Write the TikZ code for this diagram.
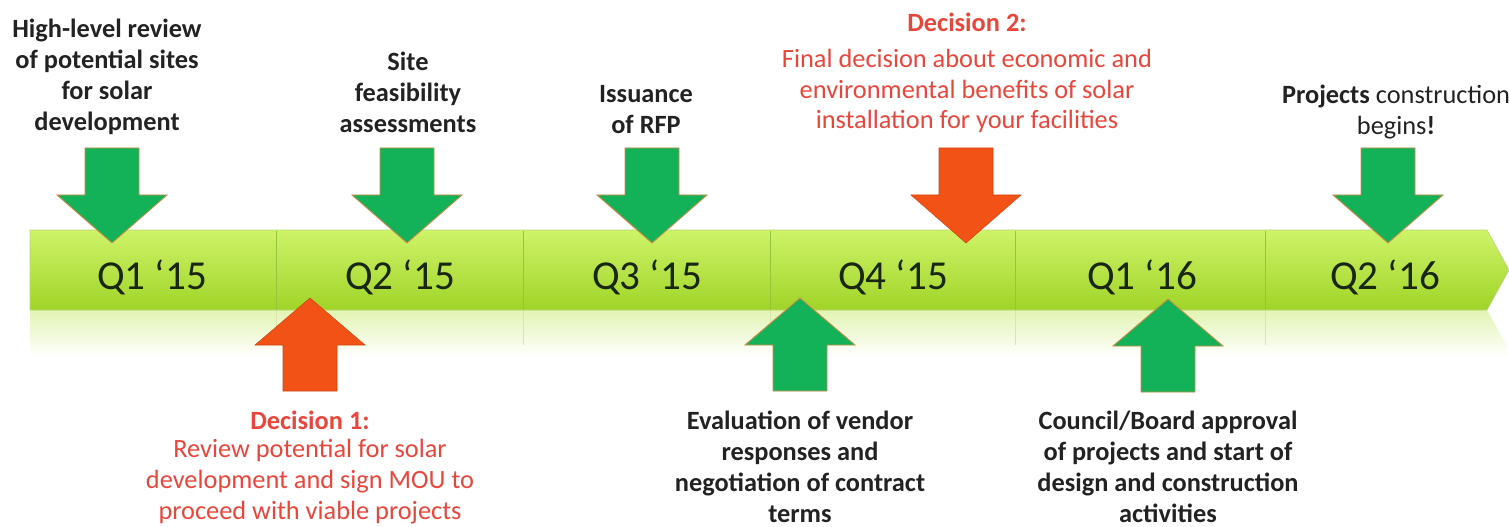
\documentclass[tikz,border=0pt]{standalone}
\usepackage{fontspec}
\setmainfont{Carlito}
\usetikzlibrary{shadows}

\definecolor{arrgreen}{RGB}{20,178,88}
\definecolor{arrorange}{RGB}{242,82,22}
\definecolor{arredge}{RGB}{205,140,70}
\definecolor{decred}{RGB}{232,70,58}
\definecolor{inkblack}{RGB}{34,34,34}
\definecolor{qdark}{RGB}{24,38,18}
\definecolor{bartop}{RGB}{206,243,104}
\definecolor{barmid}{RGB}{190,234,76}
\definecolor{barbot}{RGB}{160,212,40}
\definecolor{barline}{RGB}{150,196,60}
\definecolor{mirror}{RGB}{226,244,178}

\tikzset{
  pics/downarr/.style={code={
    \draw[pic actions] (0,0) -- (-55,-48) -- (-27,-48) -- (-27,-95) -- (27,-95) -- (27,-48) -- (55,-48) -- cycle;}},
  pics/uparr/.style={code={
    \draw[pic actions] (0,0) -- (-55,47) -- (-27,47) -- (-27,93) -- (27,93) -- (27,47) -- (55,47) -- cycle;}}
}

\begin{document}
\begin{tikzpicture}[x=0.02cm, y=-0.02cm,
    task/.style={font=\fontsize{15}{17.6}\selectfont\bfseries, text=inkblack, align=center, inner sep=0pt},
    dtitle/.style={font=\fontsize{15}{17.6}\selectfont\bfseries, text=decred, align=center, inner sep=0pt},
    dtext/.style={font=\fontsize{15}{17.6}\selectfont, text=decred, align=center, inner sep=0pt},
    quarter/.style={font=\fontsize{23.4}{27}\selectfont, text=qdark, inner sep=0pt},
    greenarr/.style={fill=arrgreen, draw=arredge, line width=0.5pt, line join=miter,
      drop shadow={opacity=0.35, shadow xshift=0.5pt, shadow yshift=-1.4pt}},
    orangearr/.style={fill=arrorange, draw=arrorange!85!black, line width=0.3pt, line join=miter,
      drop shadow={opacity=0.35, shadow xshift=0.5pt, shadow yshift=-1.4pt}}]
  \useasboundingbox (0,0) rectangle (1509,527);

  % faded mirror image under the bar
  \shade[top color=mirror, bottom color=white] (30,310) -- (1487,310) -- (1509,350) -- (1509,356) -- (30,356) -- cycle;
  \foreach \x in {276,523,770,1015,1265}
    \draw[barline!40, line width=0.3pt] (\x,310) -- (\x,345);

  % the time bar
  \shade[top color=bartop, middle color=barmid, bottom color=barbot, draw=barline!70, line width=0.3pt]
    (30,230) -- (1487,230) -- (1509,270) -- (1487,310) -- (30,310) -- cycle;
  \foreach \x in {276,523,770,1015,1265}
    \draw[barline, line width=0.4pt] (\x,231) -- (\x,309);

  \node[quarter] (q1a) at (152,277) {Q1 ‘15};
  \node[quarter] (q2a) at (400,277) {Q2 ‘15};
  \node[quarter] (q3a) at (647,277) {Q3 ‘15};
  \node[quarter] (q4a) at (893,277) {Q4 ‘15};
  \node[quarter] (q1b) at (1142,277) {Q1 ‘16};
  \node[quarter] (q2b) at (1385,277) {Q2 ‘16};

  % markers above the bar
  \coordinate (review) at (112,243);
  \coordinate (sites) at (407,243);
  \coordinate (rfp) at (652,243);
  \coordinate (choice2) at (966,243);
  \coordinate (build) at (1388,243);
  \pic[greenarr] at (review) {downarr};
  \pic[greenarr] at (sites) {downarr};
  \pic[greenarr] at (rfp) {downarr};
  \pic[orangearr] at (choice2) {downarr};
  \pic[greenarr] at (build) {downarr};

  % markers below the bar
  \coordinate (choice1) at (310,298);
  \coordinate (vendors) at (800,298);
  \coordinate (approval) at (1168,299);
  \pic[orangearr] at (choice1) {uparr};
  \pic[greenarr] at (vendors) {uparr};
  \pic[greenarr] at (approval) {uparr};

  % texts above
  \node[task] (t1) at (107,77) {High-level review\\of potential sites\\for solar\\development};
  \node[task] (t2) at (408,92) {Site\\feasibility\\assessments};
  \node[task] (t3) at (646,110) {Issuance\\of RFP};
  \node[dtitle] (d2) at (967,22) {Decision 2:};
  \node[dtext] (d2t) at (967,91) {Final decision about economic and\\environmental benefits of solar\\installation for your facilities};
  \node[task] (t5) at (1396,112) {Projects \mdseries construction\\\mdseries begins\bfseries !};

  % texts below
  \node[dtitle] (d1) at (310,420) {Decision 1:};
  \node[dtext] (d1t) at (310,482) {Review potential for solar\\development and sign MOU to\\proceed with viable projects};
  \node[task] (t4) at (800,467) {Evaluation of vendor\\responses and\\negotiation of contract\\terms};
  \node[task] (t6) at (1168,467) {Council/Board approval\\of projects and start of\\design and construction\\activities};
\end{tikzpicture}
\end{document}
